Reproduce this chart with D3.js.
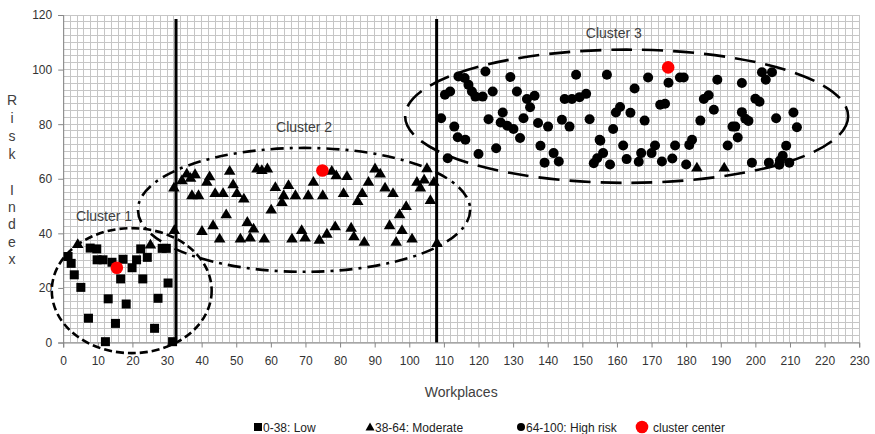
<!DOCTYPE html>
<html><head><meta charset="utf-8">
<script src="https://cdn.jsdelivr.net/npm/d3@7/dist/d3.min.js"></script>
<style>
body{margin:0;background:#fff}
svg{display:block}
text{font-family:"Liberation Sans",Arial,sans-serif}
</style>
</head><body>
<svg id="chart" width="875" height="434"></svg>
<script>
// Risk index per workplace, grouped by risk band
const lowPoints = [
  [1.4,31.5],[2.3,29],[3.2,24.8],[5.1,20.2],[7.3,8.9],[7.8,34.6],[9.7,34.3],[9.8,30.3],[11.5,30.3],
  [12.2,0.3],[13,16],[14.1,29.4],[15.1,7],[16.6,23.3],[17.3,30.5],[18.2,14.1],[19.9,27.4],[21.2,30.3],
  [22.4,34.3],[23,23.3],[24.3,31.2],[26.4,5.2],[27.4,16.2],[28.6,34.5],[29.8,34.5],[30.3,21.8],[31.6,0.3]
];
const moderatePoints = [
  [4.2,36.2],[25.2,36.0],
  [32.0,56.9],[32.1,41.3],[34.3,59.6],[35.7,62],[36.8,60.5],[38.1,61.8],[37.2,54.1],[39.1,54.1],
  [41.5,59],[42.3,61],[43.9,54.9],[46.2,54.9],[48.1,63],[49.1,58.1],[50.2,54.9],[52.2,52.9],
  [47.1,47.1],[43.3,43.1],[40.1,41],[45.2,38.2],[51.2,38.2],[53.2,44.3],[55.0,41.9],[54.0,38.6],
  [58.1,38.2],[56.0,63.9],[57.4,63.3],[59.0,63.9],[61.3,57.1],[63.2,51.6],[63.7,54.1],[65.1,57.8],
  [67.1,54.1],[60.1,48.8],[66.1,38.2],[68.9,41.3],[69.9,38.6],[70.8,54.1],[72.3,59],[75.0,54.1],
  [74.0,37.8],[76.2,40],[77.6,63],[78.9,61.4],[82.0,61.1],[81.0,54.9],[78.6,42.7],[83.2,42.2],
  [84.0,39],[85.1,52],[86.4,54.9],[87.0,37],[88.2,59],[90.1,63.9],[91.6,62],[93.0,56.9],
  [95.3,54.9],[94.3,43.1],[96.2,37],[97.2,47.1],[97.9,41.3],[99.1,50.1],[100.8,38.2],[102.2,59],
  [103.2,56.9],[104.3,59.8],[105.1,64],[107.1,59],[106.1,52.3],[108.0,36.6],
  [183.1,64.2],[191.0,64.2]
];
const highPoints = [
  [109.2,82.2],[110.3,90.8],[111.8,92],[111.1,67.5],[113.0,79.1],[114.0,75.2],[116.2,74.3],[114.2,97.5],
  [116.0,96.9],[117.1,94.4],[118.1,92],[119.1,90.1],[121.2,90.1],[122.0,99.3],[124.1,92],[122.9,81.8],
  [120.0,69.1],[125.1,71.2],[127.0,84.3],[126.4,80.6],[128.3,79.4],[130.1,78.2],[132.0,74.9],[129.2,97.3],
  [131.1,92],[133.0,82.2],[134.0,89.2],[136.2,90.4],[134.9,86.2],[137.2,80.4],[140.1,79.1],[137.9,72.1],
  [139.1,65.9],[141.7,69.4],[143.2,66.3],[144.1,81.6],[146.3,79.1],[144.9,89.2],[147.0,89.2],[149.2,89.9],
  [151.1,91.1],[148.2,98.1],[152.1,81.8],[155.0,74.3],[153.3,65.7],[154.3,67.5],
  [157.1,98.1],[165.1,93.1],[169.0,97.1],[174.9,95.2],[178.2,97.1],[179.3,97.1],[189.0,96.3],[196.1,95.1],
  [201.9,99],[204.8,99],[203.0,96.3],
  [160.9,86.3],[159.7,84.3],[163.9,84.2],[168.0,81.3],[158.9,78.2],[172.5,87.1],[173.9,87.5],[185.1,89.2],
  [186.5,90.6],[188.0,85.3],[184.1,81.3],[196.1,84.4],[197.1,82],[198.0,81.2],[193.4,79.1],[194.2,79.1],
  [200.0,89.3],[201.2,88.2],[206.0,82.2],[211.0,84.3],[212.0,78.9],
  [194.9,75.1],[192.0,72.2],[208.9,72.1],[207.9,68.4],[207.1,66.7],[199.0,65.9],[203.9,65.9],[206.9,65.1],
  [209.8,65.9],
  [181.7,74.3],[180.9,72.4],[176.8,72.2],[171.0,72.2],[170.0,69.4],[167.0,69.4],[166.3,66.2],[161.8,72.2],
  [162.8,67.2],[158.0,65.2],[155.2,73.9],[156.0,69.4],[173.0,66.3],[176.0,67.4],[180.0,65.2]
];
const clusterCenters = [[15.5,27.4],[74.9,63],[174.8,100.8]];

// Cluster outlines: centre and half-widths in axis units
const clusterNames = ["Cluster 1","Cluster 2","Cluster 3"];
const clusterCx = [19.8, 69.6, 162.8];
const clusterCy = [19, 48.6, 82.9];
const clusterRx = [23.1, 48, 64];
const clusterRy = [22.9, 22.7, 24.4];

// Band boundaries along the workplace axis
const dividerX = [32.6, 107.9];
const dividerTop = 118.5;

const xTicks = d3.range(0, 231, 10);
const yTicks = d3.range(0, 121, 20);
const legendLabels = ["0-38: Low", "38-64: Moderate", "64-100: High risk", "cluster center"];

const svg = d3.select("#chart");
const x = d3.scaleLinear().domain([0, 230]).range([63.2, 859.2]);
const y = d3.scaleLinear().domain([0, 120]).range([342.5, 15]);

// minor grid
const grid = svg.append("g");
grid.selectAll("line.gx").data(d3.range(0, 230.1, 2)).join("line")
  .attr("x1", d => x(d)).attr("x2", d => x(d)).attr("y1", y(0)).attr("y2", y(120))
  .attr("stroke", "#c6c6c6").attr("stroke-width", 1).attr("shape-rendering", "crispEdges");
grid.selectAll("line.gy").data(d3.range(0, 120.1, 2.5)).join("line")
  .attr("y1", d => y(d)).attr("y2", d => y(d)).attr("x1", x(0)).attr("x2", x(230))
  .attr("stroke", "#c6c6c6").attr("stroke-width", 1).attr("shape-rendering", "crispEdges");

// axes
const xAxis = d3.axisBottom(x).tickValues(xTicks).tickSize(5).tickPadding(9);
const yAxis = d3.axisLeft(y).tickValues(yTicks).tickSize(5).tickPadding(6);
const gx = svg.append("g").attr("transform", `translate(0,${y(0)})`).call(xAxis);
const gy = svg.append("g").attr("transform", `translate(${x(0)},0)`).call(yAxis);
[gx, gy].forEach(g => {
  g.select(".domain").attr("stroke", "#868686");
  g.selectAll(".tick line").attr("stroke", "#868686");
  g.selectAll(".tick text").attr("fill", "#333").style("font-size", "12px")
    .style("font-family", "'Liberation Sans',Arial,sans-serif");
});

// axis titles
svg.append("text").attr("x", (x(0) + x(230)) / 2).attr("y", 397).attr("text-anchor", "middle")
  .attr("fill", "#404040").style("font-size", "14px").text("Workplaces");
const yTitle = ["R","i","s","k","","I","n","d","e","x"];
const yTitleY = [105, 123, 141, 159, 0, 195, 212, 229, 247, 264];
yTitle.forEach((c, i) => {
  if (!c) return;
  svg.append("text").attr("x", 12).attr("y", yTitleY[i]).attr("text-anchor", "middle")
    .attr("fill", "#404040").style("font-size", "14px").text(c);
});

const triPath = "M0,-5.5L5.8,4.3L-5.8,4.3Z";

// points
const pts = svg.append("g");
pts.selectAll("rect.low").data(lowPoints).join("rect")
  .attr("x", d => x(d[0]) - 4.5).attr("y", d => y(d[1]) - 4.5)
  .attr("width", 9).attr("height", 9).attr("fill", "#000");
pts.selectAll("path.mod").data(moderatePoints).join("path")
  .attr("d", triPath).attr("transform", d => `translate(${x(d[0])},${y(d[1])})`).attr("fill", "#000");
pts.selectAll("circle.high").data(highPoints).join("circle")
  .attr("cx", d => x(d[0])).attr("cy", d => y(d[1])).attr("r", 5).attr("fill", "#000");
pts.selectAll("circle.center").data(clusterCenters).join("circle")
  .attr("cx", d => x(d[0])).attr("cy", d => y(d[1])).attr("r", 6.3).attr("fill", "#ff0000");

// cluster outlines
const dashes = ["8,4", "13,6,3,6", "21,10"];
clusterNames.forEach((name, i) => {
  svg.append("ellipse")
    .attr("cx", x(clusterCx[i])).attr("cy", y(clusterCy[i]))
    .attr("rx", x(clusterRx[i]) - x(0)).attr("ry", y(0) - y(clusterRy[i]))
    .attr("fill", "none").attr("stroke", "#000").attr("stroke-width", 2.6)
    .attr("stroke-dasharray", dashes[i]);
});
const labelAt = [[11.8, 46.3], [69.6, 78.9], [159.1, 113.3]];
clusterNames.forEach((name, i) => {
  svg.append("text").attr("x", x(labelAt[i][0])).attr("y", y(labelAt[i][1]) + 5)
    .attr("text-anchor", "middle").attr("fill", "#404040").style("font-size", "14px").text(name);
});

// band dividers
svg.selectAll("line.div").data(dividerX).join("line")
  .attr("x1", d => x(d)).attr("x2", d => x(d)).attr("y1", y(0)).attr("y2", y(dividerTop))
  .attr("stroke", "#000").attr("stroke-width", 3);

// legend
const lg = svg.append("g");
const legY = 427;
const legX = [258, 370, 521, 642];
lg.append("rect").attr("x", legX[0] - 4).attr("y", legY - 4).attr("width", 8).attr("height", 8).attr("fill", "#000");
lg.append("path").attr("d", "M0,-4.5L4.5,3.5L-4.5,3.5Z").attr("transform", `translate(${legX[1]},${legY})`).attr("fill", "#000");
lg.append("circle").attr("cx", legX[2]).attr("cy", legY).attr("r", 4).attr("fill", "#000");
lg.append("circle").attr("cx", legX[3]).attr("cy", legY).attr("r", 6.3).attr("fill", "#ff0000");
legendLabels.forEach((t, i) => {
  lg.append("text").attr("x", legX[i] + (i === 3 ? 11 : 5)).attr("y", legY + 4.5)
    .attr("fill", "#222").style("font-size", "12px").text(t);
});
</script>
</body></html>
